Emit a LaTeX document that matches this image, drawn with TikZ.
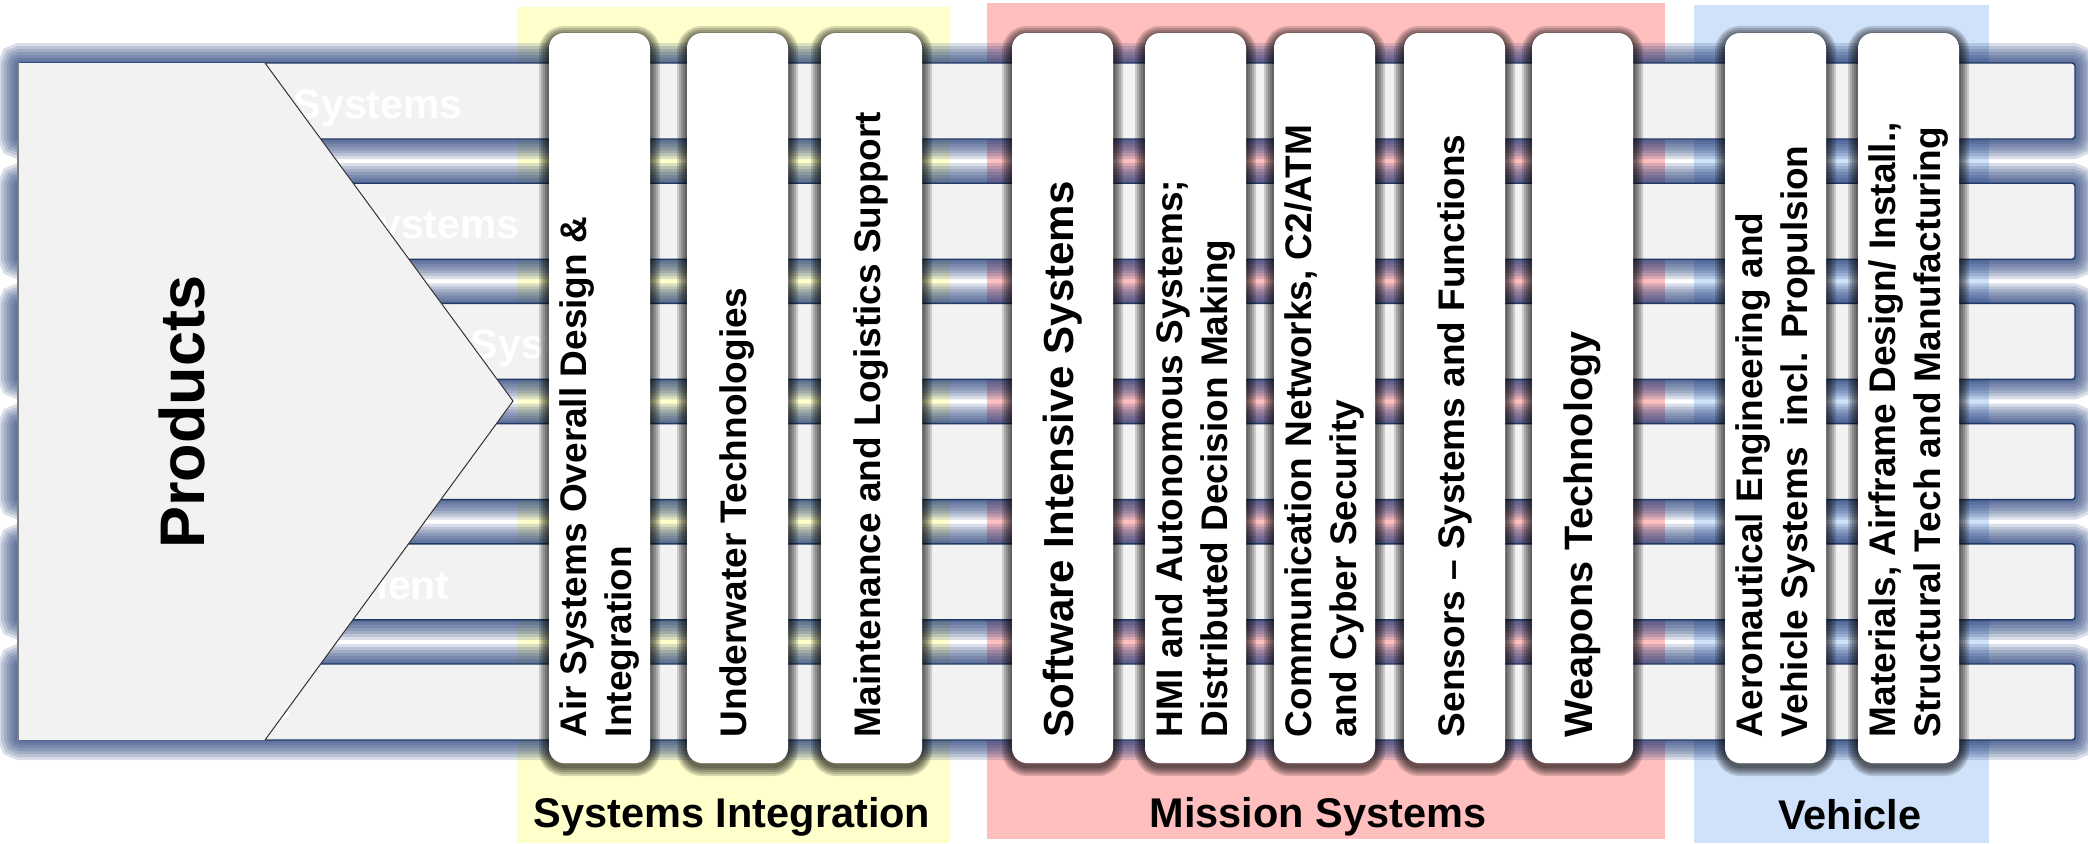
\documentclass[tikz,border=0pt]{standalone}
\usepackage{fontspec}
\setmainfont{Liberation Sans}
\definecolor{siyellow}{RGB}{255,255,204}
\definecolor{msred}{RGB}{255,191,191}
\definecolor{vhblue}{RGB}{208,226,250}
\definecolor{rowgray}{RGB}{242,242,242}
\definecolor{rowedge}{RGB}{31,56,100}
\definecolor{glowblue}{RGB}{35,60,120}
\tikzset{
  rowglow/.style={preaction={draw=glowblue, draw opacity=.17, line width=#1}},
  rowbar/.style={rectangle, rounded corners=1.5pt, fill=rowgray, draw=rowedge, line width=.7pt,
    minimum width=1028.5pt, minimum height=38pt, inner sep=0pt,
    rowglow=20pt, rowglow=17pt, rowglow=14pt, rowglow=11pt, rowglow=8pt, rowglow=5pt, rowglow=2.5pt},
  pillshadow/.style={preaction={draw=black, draw opacity=.16, line width=#1, transform canvas={yshift=-1.5pt}}},
  pill/.style={rectangle, rounded corners=7.5pt, fill=white, minimum width=50.5pt, minimum height=365pt,
    inner sep=0pt, pillshadow=10pt, pillshadow=8pt, pillshadow=6pt, pillshadow=4pt, pillshadow=2pt},
  pilltext/.style={rotate=90, anchor=west, inner sep=0pt, align=left,
    font=\bfseries\fontsize{18.5}{22.5}\selectfont},
  ghost/.style={white, anchor=base east, inner sep=0pt, font=\bfseries\fontsize{20.5}{24}\selectfont},
  grouplabel/.style={anchor=base, inner sep=0pt, font=\bfseries\fontsize{20.75}{25}\selectfont},
}
\begin{document}
\begin{tikzpicture}[x=0.5pt,y=-0.5pt]
\useasboundingbox (0,0) rectangle (2088,843);
% group panels
\fill[siyellow] (517,7) rectangle (950,843);
\fill[msred] (987,3) rectangle (1665,839);
\fill[vhblue] (1694,5) rectangle (1989,843);
% product rows
\foreach \i in {1,...,6}
  \node[rowbar] (row\i) at (1046.5,{101+120.2*(\i-1)}) {};
\node[ghost] (g1) at (463,118) {Systems};
\node[ghost] (g2) at (520,238) {Systems};
\node[ghost] (g3) at (640,358) {Systems};
\node[ghost] (g5) at (450,599) {Equipment};
\node[ghost] (g6) at (292,719) {Services};
% products chevron
\fill[rowgray] (18,63) -- (265,63) -- (513,401) -- (265,740) -- (18,740) -- cycle;
\draw[black!80, line width=.5pt] (265,63) -- (513,401) -- (265,740);
\draw[black!50, line width=1pt] (18,63) -- (18,740);
\node[rotate=90, inner sep=0pt, font=\bfseries\fontsize{31.5}{36}\selectfont] (prod) at (182,412) {Products};
% competence pillars
\foreach \x/\n in {549/1,687/2,821/3,1012/4,1145/5,1274/6,1404/7,1532/8,1725/9,1858/10}
  \node[pill] (pill\n) at ({\x+50.5},398) {};
\node[pilltext] (t1) at ([yshift=13pt]pill1.south) {Air Systems Overall Design \&\\Integration};
\node[pilltext] (t2) at ([yshift=13pt]pill2.south) {Underwater Technologies};
\node[pilltext] (t3) at ([yshift=13pt]pill3.south) {Maintenance and Logistics Support};
\node[pilltext, font=\bfseries\fontsize{21}{25}\selectfont] (t4) at ([yshift=13pt]pill4.south) {Software Intensive Systems};
\node[pilltext] (t5) at ([yshift=13pt]pill5.south) {HMI and Autonomous Systems;\\Distributed Decision Making};
\node[pilltext] (t6) at ([yshift=13pt]pill6.south) {Communication Networks, C2/ATM\\and Cyber Security};
\node[pilltext] (t7) at ([yshift=13pt]pill7.south) {Sensors \textendash{} Systems and Functions};
\node[pilltext, font=\bfseries\fontsize{19.8}{24}\selectfont] (t8) at ([yshift=13pt]pill8.south) {Weapons Technology};
\node[pilltext] (t9) at ([yshift=13pt]pill9.south) {Aeronautical Engineering and\\Vehicle Systems~ incl. Propulsion};
\node[pilltext] (t10) at ([yshift=13pt]pill10.south) {Materials, Airframe Design/ Install.,\\Structural Tech and Manufacturing};
% group labels
\node[grouplabel] (si) at (732,827) {Systems Integration};
\node[grouplabel] (ms) at (1318,827) {Mission Systems};
\node[grouplabel] (vh) at (1850,829) {Vehicle};
\end{tikzpicture}
\end{document}
